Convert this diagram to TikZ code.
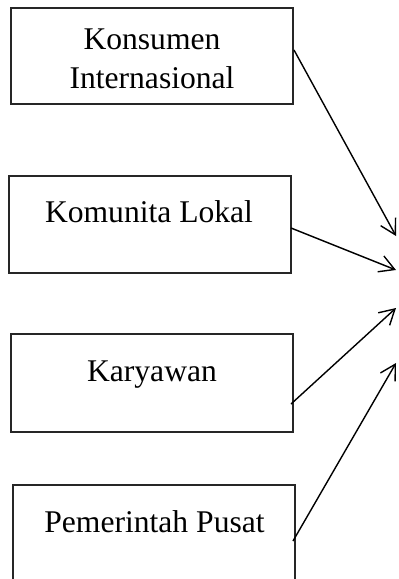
\documentclass[tikz,border=0pt]{standalone}
\usepackage{fontspec}
\setmainfont{Liberation Serif}
\usetikzlibrary{arrows.meta}
\begin{document}
\begin{tikzpicture}[x=1pt,y=-1pt,
  boxstyle/.style={draw=black!85,line width=1.1pt},
  lbl/.style={anchor=base,inner sep=0pt,font=\fontsize{31.6}{38.5}\selectfont,align=center},
  conn/.style={line width=1.4pt,-{Straight Barb[length=15pt,width=17pt,line width=1.4pt]}}]
\useasboundingbox (0,0) rectangle (399,579);
\clip (0,0) rectangle (399,579);
% boxes
\draw[boxstyle] (11,8) rectangle (293,104);
\draw[boxstyle] (9,176) rectangle (291,273);
\draw[boxstyle] (11,334) rectangle (293,432);
\draw[boxstyle] (13,485) rectangle (295,600);
% labels
\node[lbl] (t1a) at (152,49.5) {Konsumen};
\node[lbl] (t1b) at (152,88) {Internasional};
\node[lbl] (t2) at (149,222.7) {Komunita Lokal};
\node[lbl] (t3) at (152,381.7) {Karyawan};
\node[lbl] (t4) at (154.5,532) {Pemerintah Pusat};
% connector points
\coordinate (s1) at (294,50);
\coordinate (e1) at (396,236);
\coordinate (s2) at (291,228);
\coordinate (e2) at (396,270);
\coordinate (s3) at (291,404);
\coordinate (e3) at (396,308);
\coordinate (s4) at (293,541);
\coordinate (e4) at (396,363);
\draw[conn] (s1) -- (e1);
\draw[conn] (s2) -- (e2);
\draw[conn] (s3) -- (e3);
\draw[conn] (s4) -- (e4);
\end{tikzpicture}
\end{document}
